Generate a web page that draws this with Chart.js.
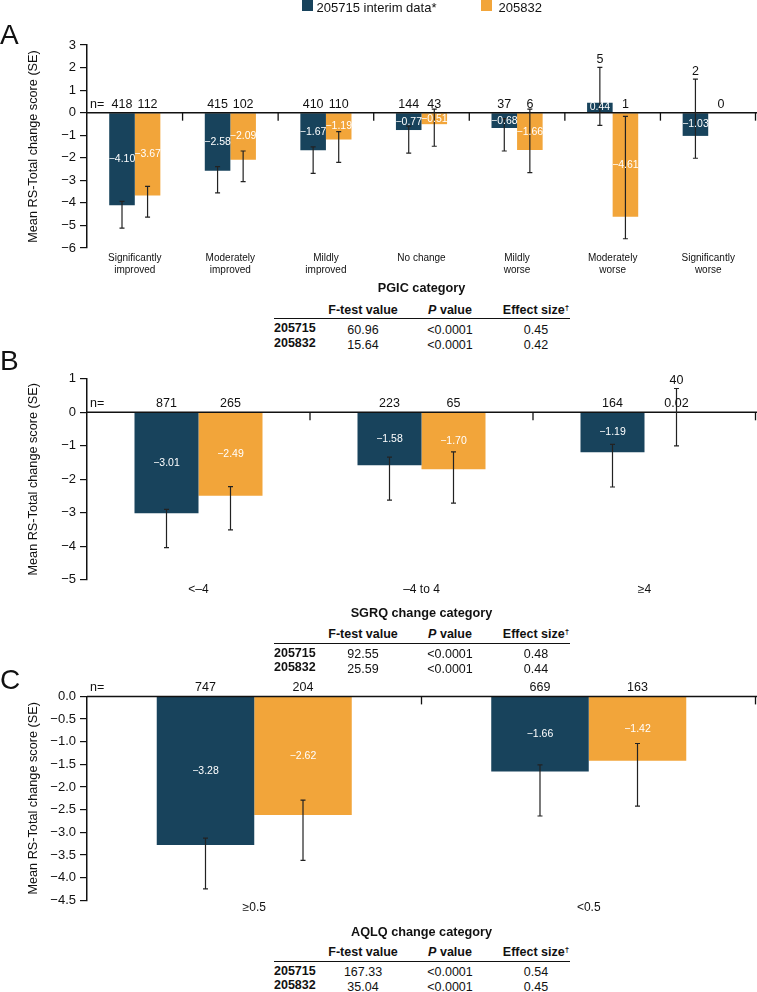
<!DOCTYPE html>
<html><head><meta charset="utf-8">
<script src="https://cdn.jsdelivr.net/npm/chart.js@4.4.1/dist/chart.umd.min.js"></script>
<style>
html,body{margin:0;padding:0;background:#fff;}
body{width:757px;height:992px;position:relative;overflow:hidden;font-family:"Liberation Sans",Arial,sans-serif;color:#111;}
canvas{position:absolute;left:0;}
.t{position:absolute;white-space:nowrap;line-height:normal;}
.rule{position:absolute;height:1.3px;background:#111;}
.sw{position:absolute;width:11px;height:12px;}
.letter{position:absolute;left:0;font-size:28px;line-height:28px;}
</style></head><body>
<canvas id="cA" width="757" height="300" style="top:0px;width:757px;height:300px"></canvas>
<canvas id="cB" width="757" height="270" style="top:355px;width:757px;height:270px"></canvas>
<canvas id="cC" width="757" height="290" style="top:655px;width:757px;height:290px"></canvas>
<div class="letter" style="top:21px">A</div>
<div class="letter" style="top:347px">B</div>
<div class="letter" style="top:666px">C</div>
<script>
// ---------- DATA ----------
const seriesNames = ['205715 interim data*', '205832'];
const yTitle = 'Mean RS-Total change score (SE)';

const pgicCategories = [['Significantly','improved'],['Moderately','improved'],['Mildly','improved'],'No change',['Mildly','worse'],['Moderately','worse'],['Significantly','worse']];
const pgic205715Mean = [-4.10, -2.58, -1.67, -0.77, -0.68, 0.44, -1.03];
const pgic205832Mean = [-3.67, -2.09, -1.19, -0.51, -1.66, -4.61, null];
const pgic205715N = [418, 415, 410, 144, 37, 5, 2];
const pgic205832N = [112, 102, 110, 43, 6, 1, 0];
const pgic205715ErrHigh = [-3.93, -2.39, -1.52, -0.60, -0.26, 2.01, 1.49];
const pgic205715ErrLow  = [-5.12, -3.56, -2.69, -1.79, -1.70, -0.56, -2.02];
const pgic205832ErrHigh = [-3.27, -1.70, -0.84, 0.16, 0.16, -0.16, null];
const pgic205832ErrLow  = [-4.63, -3.06, -2.20, -1.49, -2.66, -5.59, null];
const pgicYTicks = [3, -6, 1];   // max, min, step

const sgrqCategories = ['<–4', '–4 to 4', '≥4'];
const sgrq205715Mean = [-3.01, -1.58, -1.19];
const sgrq205832Mean = [-2.49, -1.70, 0.02];
const sgrq205715N = [871, 223, 164];
const sgrq205832N = [265, 65, 40];
const sgrq205715ErrHigh = [-2.90, -1.34, -0.96];
const sgrq205715ErrLow  = [-4.04, -2.62, -2.23];
const sgrq205832ErrHigh = [-2.22, -1.18, 0.71];
const sgrq205832ErrLow  = [-3.51, -2.71, -1.00];
const sgrqYTicks = [1, -5, 1];

const aqlqCategories = ['≥0.5', '<0.5'];
const aqlq205715Mean = [-3.28, -1.66];
const aqlq205832Mean = [-2.62, -1.42];
const aqlq205715N = [747, 669];
const aqlq205832N = [204, 163];
const aqlq205715ErrHigh = [-3.13, -1.51];
const aqlq205715ErrLow  = [-4.25, -2.64];
const aqlq205832ErrHigh = [-2.29, -1.04];
const aqlq205832ErrLow  = [-3.62, -2.42];
const aqlqYTicks = [0, -4.5, 0.5];

const statColumns = ['F-test value', 'P value', 'Effect size†'];
const studyIds = ['205715', '205832'];
const pgicFTest = ['60.96', '15.64'];
const pgicPValue = ['<0.0001', '<0.0001'];
const pgicEffect = ['0.45', '0.42'];
const sgrqFTest = ['92.55', '25.59'];
const sgrqPValue = ['<0.0001', '<0.0001'];
const sgrqEffect = ['0.48', '0.44'];
const aqlqFTest = ['167.33', '35.04'];
const aqlqPValue = ['<0.0001', '<0.0001'];
const aqlqEffect = ['0.54', '0.45'];

// ---------- STYLE ----------
const NAVY = '#18435C';
const ORANGE = '#F2A53A';
const INK = '#111111';
const FONT = '"Liberation Sans", Arial, sans-serif';

function fmtVal(v){ return (v < 0 ? '−' : '') + Math.abs(v).toFixed(2); }

function overlayPlugin(){
  return {
    id: 'overlay',
    afterDatasetsDraw(chart){
      const ctx = chart.ctx, a = chart.chartArea, x = chart.scales.x, y = chart.scales.y;
      const zero = y.getPixelForValue(0);
      ctx.save();
      // zero line
      ctx.strokeStyle = INK; ctx.lineWidth = 1.5;
      ctx.beginPath(); ctx.moveTo(a.left, zero); ctx.lineTo(a.right + 1, zero); ctx.stroke();
      // category boundary ticks
      const n = chart.data.labels.length;
      ctx.lineWidth = 1.3;
      for (let i = 1; i <= n; i++){
        const bx = i < n ? (x.getPixelForValue(i-1) + x.getPixelForValue(i)) / 2 : a.right - 0.5;
        ctx.beginPath(); ctx.moveTo(bx, zero); ctx.lineTo(bx, zero + 8); ctx.stroke();
      }
      // error bars
      ctx.strokeStyle = '#222'; ctx.lineWidth = 1.2;
      chart.data.datasets.forEach((ds, di) => {
        const meta = chart.getDatasetMeta(di);
        ds.data.forEach((v, i) => {
          if (v == null || ds.errHigh[i] == null) return;
          const bx = meta.data[i].x;
          const yh = y.getPixelForValue(ds.errHigh[i]), yl = y.getPixelForValue(ds.errLow[i]);
          ctx.beginPath();
          ctx.moveTo(bx, yh); ctx.lineTo(bx, yl);
          ctx.moveTo(bx - 2.5, yh); ctx.lineTo(bx + 2.5, yh);
          ctx.moveTo(bx - 2.5, yl); ctx.lineTo(bx + 2.5, yl);
          ctx.stroke();
        });
      });
      // value labels
      ctx.textAlign = 'center'; ctx.textBaseline = 'middle';
      ctx.font = '10.5px ' + FONT;
      chart.data.datasets.forEach((ds, di) => {
        const meta = chart.getDatasetMeta(di);
        ds.data.forEach((v, i) => {
          if (v == null) return;
          const bar = meta.data[i];
          const h = Math.abs(bar.base - bar.y);
          if (h < 5){ ctx.fillStyle = INK; ctx.font = '12.5px ' + FONT; ctx.fillText(fmtVal(v), bar.x, zero - 8.5); ctx.font = '10.5px ' + FONT; }
          else { ctx.fillStyle = '#fff'; ctx.fillText(fmtVal(v), bar.x, (bar.y + bar.base) / 2); }
        });
      });
      // n labels
      ctx.fillStyle = INK; ctx.font = '12.5px ' + FONT;
      ctx.textAlign = 'left';
      ctx.fillText('n=', a.left + 3, zero - 8.5);
      ctx.textAlign = 'center';
      chart.data.datasets.forEach((ds, di) => {
        const meta = chart.getDatasetMeta(di);
        const ref = meta.data.find(b => b && isFinite(b.width)) || {width: 20};
        ds.nValues.forEach((nv, i) => {
          const el = meta.data[i];
          const bx = (el && isFinite(el.x)) ? el.x : x.getPixelForValue(i) + (di - 0.5) * ref.width;
          let cy = zero - 8.5;
          const eh = ds.errHigh[i];
          if (eh != null && ds.data[i] != null){
            const py = y.getPixelForValue(eh);
            if (py < zero - 12) cy = py - 8;
          }
          ctx.fillText(String(nv), bx, cy);
        });
      });
      ctx.restore();
    }
  };
}

function makeChart(id, cfg){
  const ds = (name, data, color, hi, lo, nv) => ({
    label: name, data: data, backgroundColor: color, borderWidth: 0,
    categoryPercentage: cfg.catPct, barPercentage: 1,
    errHigh: hi, errLow: lo, nValues: nv
  });
  return new Chart(document.getElementById(id), {
    type: 'bar',
    data: {
      labels: cfg.labels,
      datasets: [
        ds(seriesNames[0], cfg.m1, NAVY, cfg.h1, cfg.l1, cfg.n1),
        ds(seriesNames[1], cfg.m2, ORANGE, cfg.h2, cfg.l2, cfg.n2)
      ]
    },
    options: {
      responsive: false, animation: false, devicePixelRatio: 1,
      layout: { padding: { top: cfg.padTop, right: 1, left: 0, bottom: 0 } },
      plugins: { legend: { display: false }, tooltip: { enabled: false } },
      scales: {
        x: {
          grid: { display: false, drawTicks: false }, border: { display: false },
          ticks: { font: { size: cfg.xFont, family: FONT }, color: INK, padding: cfg.xPad, maxRotation: 0, autoSkip: false },
          title: { display: true, text: cfg.xTitle, color: INK, font: { size: 12.7, weight: 'bold', family: FONT }, padding: { top: 0, bottom: cfg.titlePad } },
          afterFit(s){ s.height = cfg.xHeight; }
        },
        y: {
          min: cfg.yTicks[1], max: cfg.yTicks[0],
          ticks: { stepSize: cfg.yTicks[2], color: INK, padding: 4, font: { size: 13, family: FONT },
            callback: v => (v < 0 ? '−' : '') + Math.abs(v).toFixed(cfg.dec) },
          grid: { drawOnChartArea: false, drawTicks: true, tickLength: 7, color: INK, lineWidth: 1.2 },
          border: { display: true, color: INK, width: 1.5 },
          title: { display: true, text: yTitle, color: INK, font: { size: 12.7, family: FONT }, padding: { top: 26, bottom: 0 } },
          afterFit(s){ s.width = 87; }
        }
      }
    },
    plugins: [overlayPlugin()]
  });
}

makeChart('cA', { labels: pgicCategories, m1: pgic205715Mean, m2: pgic205832Mean,
  h1: pgic205715ErrHigh, l1: pgic205715ErrLow, h2: pgic205832ErrHigh, l2: pgic205832ErrLow,
  n1: pgic205715N, n2: pgic205832N, yTicks: pgicYTicks, dec: 0, catPct: 0.535,
  padTop: 45, xHeight: 52, xFont: 10, xPad: 4, xTitle: 'PGIC category', titlePad: 3.4 });

makeChart('cB', { labels: sgrqCategories, m1: sgrq205715Mean, m2: sgrq205832Mean,
  h1: sgrq205715ErrHigh, l1: sgrq205715ErrLow, h2: sgrq205832ErrHigh, l2: sgrq205832ErrLow,
  n1: sgrq205715N, n2: sgrq205832N, yTicks: sgrqYTicks, dec: 0, catPct: 0.574,
  padTop: 23.8, xHeight: 45.2, xFont: 12, xPad: 2.3, xTitle: 'SGRQ change category', titlePad: 4.1 });

makeChart('cC', { labels: aqlqCategories, m1: aqlq205715Mean, m2: aqlq205832Mean,
  h1: aqlq205715ErrHigh, l1: aqlq205715ErrLow, h2: aqlq205832ErrHigh, l2: aqlq205832ErrLow,
  n1: aqlq205715N, n2: aqlq205832N, yTicks: aqlqYTicks, dec: 1, catPct: 0.583,
  padTop: 41.4, xHeight: 44.7, xFont: 12, xPad: 0.5, xTitle: 'AQLQ change category', titlePad: 5.1 });

// ---------- HTML text: legend & tables ----------
function place(html, x, y, align, size, extra){
  const d = document.createElement('div');
  d.className = 't';
  d.innerHTML = html;
  d.style.left = x + 'px'; d.style.top = y + 'px';
  d.style.fontSize = (size || 12.5) + 'px';
  d.style.transform = 'translate(' + (align === 'c' ? '-50%' : '0') + ',-50%)';
  if (extra) d.style.cssText += extra;
  document.body.appendChild(d);
  return d;
}
function esc(s){ return s.replace(/&/g,'&amp;').replace(/</g,'&lt;').replace(/>/g,'&gt;'); }

// legend
[[NAVY, 301.5, 316.5], [ORANGE, 481, 498.5]].forEach((p, i) => {
  const sw = document.createElement('div'); sw.className = 'sw';
  sw.style.background = p[0]; sw.style.left = p[1] + 'px'; sw.style.top = '-1px';
  document.body.appendChild(sw);
  place(esc(seriesNames[i]), p[2], 6.5, 'l', 13);
});

function headerHtml(s){
  let h = esc(s);
  if (h.startsWith('P ')) h = '<i>P</i>' + h.slice(1);
  if (h.endsWith('†')) h = h.slice(0, -1) + '<span style="font-size:8px;position:relative;top:-4px">†</span>';
  return '<b>' + h + '</b>';
}
function buildTable(headerY, fVals, pVals, eVals){
  const cols = [363, 450, 536];
  statColumns.forEach((c, i) => place(headerHtml(c), cols[i], headerY, 'c', 12.5));
  const r = document.createElement('div'); r.className = 'rule';
  r.style.left = '274px'; r.style.width = '296px'; r.style.top = (headerY + 8.2) + 'px';
  document.body.appendChild(r);
  [fVals, pVals, eVals];
  studyIds.forEach((sid, k) => {
    const ry = headerY + 20 + k * 14.5;
    place('<b>' + esc(sid) + '</b>', 274, ry - 1.8, 'l', 12.5);
    place(esc(fVals[k]), cols[0], ry, 'c', 12.5);
    place(esc(pVals[k]), cols[1], ry, 'c', 12.5);
    place(esc(eVals[k]), cols[2], ry, 'c', 12.5);
  });
}
buildTable(310, pgicFTest, pgicPValue, pgicEffect);
buildTable(634.3, sgrqFTest, sgrqPValue, sgrqEffect);
buildTable(952.3, aqlqFTest, aqlqPValue, aqlqEffect);
</script>
</body></html>
